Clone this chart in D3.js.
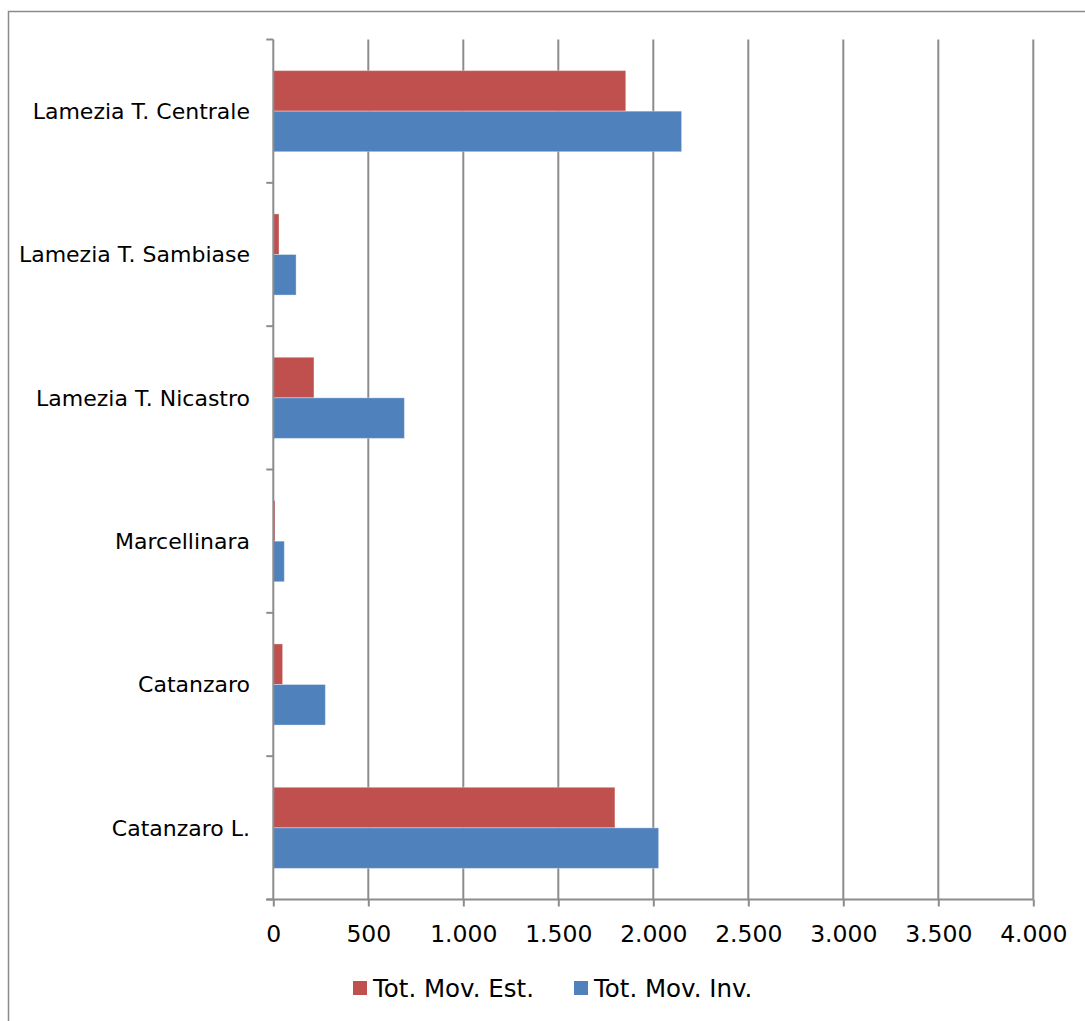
<!DOCTYPE html>
<html><head><meta charset="utf-8">
<script src="https://cdn.jsdelivr.net/npm/d3@7"></script>
<style>body{margin:0;background:#fff}svg{display:block}text{font-family:"DejaVu Sans",sans-serif;fill:#000}</style>
</head><body><svg id="c" width="1085" height="1021"></svg>
<script>
const categories = ["Lamezia T. Centrale","Lamezia T. Sambiase","Lamezia T. Nicastro","Marcellinara","Catanzaro","Catanzaro L."];
const seriesNames = ["Tot. Mov. Est.","Tot. Mov. Inv."];
const estValues = [1855, 30, 214, 9, 49, 1798];
const invValues = [2149, 120, 690, 58, 274, 2028];
const xTicks = [0,500,1000,1500,2000,2500,3000,3500,4000];
const tickLabels = ["0","500","1.000","1.500","2.000","2.500","3.000","3.500","4.000"];
const colors = ["#C0504D","#4F81BD"];

const svg = d3.select("#c");
svg.append("rect").attr("x",8.5).attr("y",11.5).attr("width",1085).attr("height",1021).attr("fill","none").attr("stroke","#8a8a8a").attr("stroke-width",1.5);

const L=273.3, R=1033.3, T=39.5, B=899.5;
const x = d3.scaleLinear().domain([0,4000]).range([L,R]);
const y = d3.scaleBand().domain(categories).range([T,B]).paddingInner(0.434).paddingOuter(0.217);
const sub = d3.scaleBand().domain(seriesNames).range([0,y.bandwidth()]);

const gridCol="#8c8c8c";
// grid
svg.append("g").selectAll("line").data(xTicks.slice(1)).join("line")
  .attr("x1",d=>x(d)).attr("x2",d=>x(d)).attr("y1",T).attr("y2",B)
  .attr("stroke",gridCol).attr("stroke-width",2);

// bars
const data = categories.map((c,i)=>({c, vals:[estValues[i],invValues[i]]}));
const g = svg.append("g");
data.forEach(d=>{
  d.vals.forEach((v,j)=>{
    g.append("rect").attr("x",x(0)).attr("y",y(d.c)+sub(seriesNames[j]))
     .attr("width",x(v)-x(0)).attr("height",sub.bandwidth())
     .attr("fill",colors[j]).attr("stroke","rgba(255,255,255,0.35)").attr("stroke-width",1);
  });
});

// x axis
const xa = svg.append("g").attr("transform",`translate(0,${B})`)
  .call(d3.axisBottom(x).tickValues(xTicks).tickFormat((d,i)=>tickLabels[i]).tickSize(7).tickPadding(19));
xa.select(".domain").attr("stroke",gridCol).attr("stroke-width",2).attr("d",`M${L-7},0H${R}`);
xa.selectAll(".tick line").attr("stroke",gridCol).attr("stroke-width",2);
xa.selectAll(".tick text").attr("font-size",23.5).attr("font-family","DejaVu Sans").attr("fill","#000");

// y axis
const yTickPos = d3.range(categories.length+1).map(i=>T+i*(B-T)/categories.length);
svg.append("line").attr("x1",L).attr("x2",L).attr("y1",T).attr("y2",B).attr("stroke",gridCol).attr("stroke-width",2);
svg.append("g").selectAll("line").data(yTickPos).join("line")
  .attr("x1",L-7).attr("x2",L).attr("y1",d=>d).attr("y2",d=>d).attr("stroke",gridCol).attr("stroke-width",2);
svg.append("g").selectAll("text").data(categories).join("text")
  .attr("x",250).attr("y",d=>y(d)+y.bandwidth()/2).attr("dy","0.35em")
  .attr("text-anchor","end").attr("font-size",22).text(d=>d);

// legend
const leg = svg.append("g");
const legX=[353,574];
seriesNames.forEach((s,i)=>{
  leg.append("rect").attr("x",legX[i]).attr("y",981).attr("width",14).attr("height",14).attr("fill",colors[i]);
  leg.append("text").attr("x",legX[i]+20).attr("y",988).attr("dy","0.35em").attr("font-size",24.5).text(s);
});
</script></body></html>
